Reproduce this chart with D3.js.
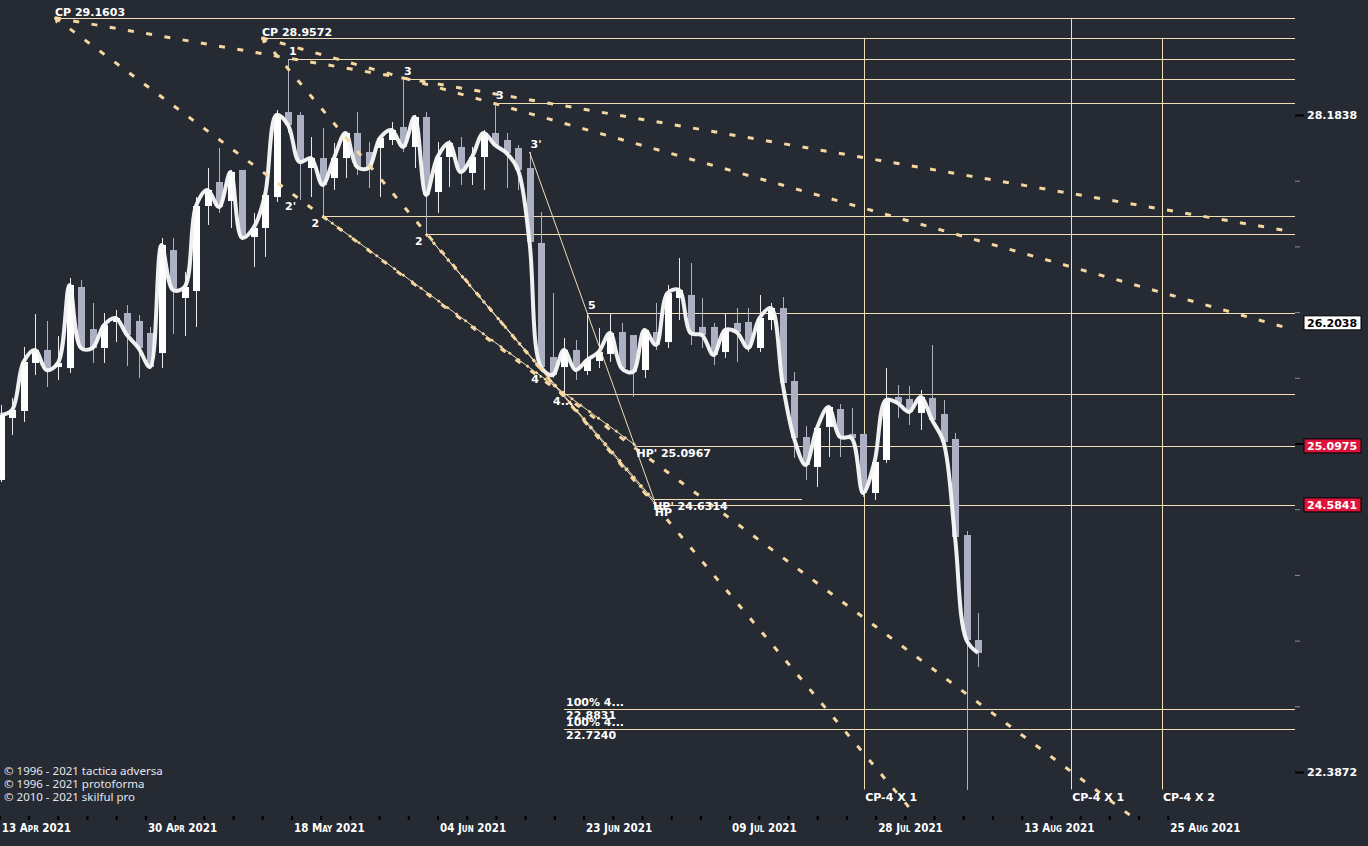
<!DOCTYPE html>
<html><head><meta charset="utf-8">
<script src="https://cdn.jsdelivr.net/npm/d3@7"></script>
<style>
html,body{margin:0;padding:0;background:#252a33;overflow:hidden}
svg{display:block}
</style></head><body>
<svg id="c" width="1368" height="846"></svg>
<script>
// ---------------- data ----------------
const opens  = [24.800,25.344,25.407,25.838,25.956,25.801,25.792,26.535,26.147,25.974,26.212,26.294,26.221,26.111,25.928,26.881,26.433,26.498,27.299,27.530,27.347,27.646,27.004,27.090,27.385,28.213,28.184,27.665,27.762,27.568,27.762,28.007,27.821,27.860,27.938,28.066,27.870,28.164,27.433,27.772,27.870,27.617,27.772,28.007,27.938,27.860,27.665,26.948,25.892,25.801,25.956,25.765,25.856,25.919,26.120,26.092,25.774,26.120,26.028,26.433,26.461,26.166,26.166,25.937,26.203,26.212,25.974,26.230,26.340,25.675,25.176,24.913,25.265,25.424,25.203,25.203,24.687,24.974,25.532,25.514,25.389,25.523,25.380,25.159,24.326,23.447];
const highs  = [25.460,25.522,25.983,26.285,26.221,26.083,26.619,26.600,26.387,26.294,26.322,26.368,26.276,26.166,26.995,26.995,26.675,27.385,27.665,27.860,27.646,27.646,27.232,27.424,28.233,28.742,28.213,27.967,28.056,27.909,28.007,28.213,27.918,27.967,28.115,28.542,28.184,28.213,27.918,27.938,27.967,27.870,28.036,28.303,28.007,27.889,27.821,27.242,26.479,26.065,26.047,26.294,26.157,26.294,26.203,26.092,26.138,26.387,26.554,26.806,26.759,26.433,26.203,26.294,26.340,26.340,26.461,26.387,26.442,25.756,25.273,25.300,25.460,25.469,25.433,25.203,24.974,25.792,25.639,25.630,25.594,26.001,25.505,25.212,24.360,23.670];
const lows   = [24.782,25.194,25.309,25.729,25.621,25.684,25.747,25.965,25.838,25.838,26.028,25.810,25.702,25.792,25.792,26.102,26.083,26.166,27.118,27.232,27.090,26.976,26.722,26.816,27.337,28.007,27.357,27.385,27.204,27.453,27.568,27.597,27.472,27.385,27.889,27.821,27.665,27.033,27.232,27.482,27.501,27.501,27.453,27.870,27.472,27.453,26.938,25.756,25.702,25.558,25.684,25.729,25.792,25.847,25.756,25.532,25.702,25.956,25.974,26.230,26.001,25.974,25.820,25.883,25.847,25.937,25.937,26.138,25.639,24.992,24.800,24.739,25.000,25.000,25.150,24.652,24.626,24.948,25.344,25.282,25.238,25.309,25.114,24.284,22.247,23.226];
const closes = [25.371,25.416,25.847,25.956,25.774,25.838,26.554,25.974,25.974,26.184,26.248,26.092,25.974,25.801,26.928,26.507,26.535,27.299,27.453,27.289,27.626,26.995,27.090,27.405,28.184,28.085,27.723,27.762,27.501,27.762,28.007,27.675,27.665,27.957,28.036,27.870,28.164,27.405,27.772,27.909,27.626,27.772,28.007,27.889,27.811,27.646,26.957,25.801,25.729,25.956,25.774,25.865,25.937,26.111,25.792,25.756,26.138,26.001,26.479,26.507,26.111,26.092,25.910,26.138,26.120,25.974,26.248,26.340,25.657,25.167,24.930,25.256,25.442,25.176,25.167,24.687,24.957,25.505,25.478,25.398,25.532,25.327,25.132,24.309,23.447,23.341];

const dateLabels = ["13 Apr 2021","30 Apr 2021","18 May 2021","04 Jun 2021","23 Jun 2021","09 Jul 2021","28 Jul 2021","13 Aug 2021","25 Aug 2021"];
const dateTickStep = 2.54;          // candles per minor date tick
const dateTickCount = 41;
const yMajorTicks = [28.1838, 25.1188, 22.3872];
const yMinorTicks = [22.9087, 23.4423, 23.9883, 24.5470, 25.1188, 25.7040, 26.3026, 26.9153, 27.5422];
const priceTags = [26.2038, 25.0975, 24.5841];

// horizontal levels: price, start index, end index (null = to the right edge)
const levelPrices = [29.1603, 28.9572, 28.742, 28.542, 28.303, 27.2037, 27.0326, 26.2944, 25.558, 25.0967, 24.6314, 24.5841, 22.8831, 22.7240];
const levelStarts = [4.74, 22.74, 25, 35, 43, 28, 37, 51, 49, 55.3, 56.75, 57, 49, 49];
const levelEnds   = [null, null, null, null, null, null, null, null, null, null, 69.7, null, null, null];

// projection verticals
const projIdx    = [75.1, 93.1, 101];
const projTop    = [28.9572, 29.1603, 28.9572];
const projLabels = ["CP-4 X 1", "CP-4 X 1", "CP-4 X 2"];
const projBottom = 22.25;

// thick dotted trend lines [[i,p],[i,p]]
const trendLines = [
  [[4.74, 29.1603], [112.5, 27.051]],
  [[4.74, 29.1603], [98.2, 22.052]],
  [[22.74, 28.9572], [112.5, 26.138]],
  [[22.74, 28.9572], [79.35, 22.075]]
];
// thin fan lines with dots
const fanLines = [
  [[28, 27.2037], [55.3, 25.0967]],
  [[37, 27.0326], [57, 24.5841]],
  [[37, 27.0326], [56.75, 24.6314]]
];
// thin plain line 3' -> HP
const plainLines = [
  [[46, 27.821], [57, 24.5841]]
];

// pivot / annotation labels: text, index, price
const cpLabels = [["CP 29.1603", 4.74, 29.1603], ["CP 28.9572", 22.74, 28.9572]];
const highLabels = [["1", 25, 28.742], ["3", 35, 28.542], ["3", 43, 28.303], ["3'", 46, 27.821], ["5", 51, 26.2944]];
const lowLabels  = [["2", 28, 27.2037], ["2", 37, 27.0326], ["4...", 49, 25.558], ["2'", 25.7, 27.37], ["4'", 47.1, 25.76]];
const hpLabels = [["HP' 25.0967", 55.3, 25.0967], ["HP' 24.6314", 56.75, 24.6314], ["HP", 56.9, 24.58]];
const targetLabels = [["100%  4...", "22.8831", 49, 22.8831], ["100%  4...", "22.7240", 49, 22.7240]];
const copyright = ["© 1996 - 2021 tactica adversa", "© 1996 - 2021 protoforma", "© 2010 - 2021 skilful pro"];

// ---------------- drawing ----------------
const W = 1368, H = 846, plotRight = 1295;
const svg = d3.select("#c");
const x = d3.scaleLinear().domain([0, 1]).range([0.5, 12]);
const y = d3.scaleLog().domain([22.3872, 28.1838]).range([772, 115]);

const LINE = "#f3ddb5", DOT = "#f6d7a0", GRAY = "#adb0c2", WHITE = "#ffffff";
const labelFont = "bold 11px 'DejaVu Sans'";

svg.append("rect").attr("width", W).attr("height", H).attr("fill", "#252a33");

svg.append("defs").append("clipPath").attr("id", "plot")
  .append("rect").attr("x", 0).attr("y", 0).attr("width", plotRight).attr("height", 816);

const g = svg.append("g").attr("clip-path", "url(#plot)");

// horizontal levels
g.selectAll("line.lvl").data(levelPrices).join("line")
  .attr("x1", (d, k) => x(levelStarts[k]))
  .attr("x2", (d, k) => levelEnds[k] == null ? plotRight : x(levelEnds[k]))
  .attr("y1", d => Math.round(y(d)) + 0.5).attr("y2", d => Math.round(y(d)) + 0.5)
  .attr("stroke", LINE).attr("stroke-width", 1);

// projection verticals
g.selectAll("line.proj").data(projIdx).join("line")
  .attr("x1", d => Math.round(x(d)) + 0.5).attr("x2", d => Math.round(x(d)) + 0.5)
  .attr("y1", (d, k) => y(projTop[k])).attr("y2", y(projBottom))
  .attr("stroke", LINE).attr("stroke-width", 1);

// candles
const idx = d3.range(closes.length);
const up = i => closes[i] >= opens[i];
g.selectAll("line.wick").data(idx).join("line")
  .attr("x1", i => Math.round(x(i)) + 0.5).attr("x2", i => Math.round(x(i)) + 0.5)
  .attr("y1", i => y(highs[i])).attr("y2", i => y(lows[i]))
  .attr("stroke", i => up(i) ? "#e8e8ee" : GRAY).attr("stroke-width", 1);
g.selectAll("rect.body").data(idx).join("rect")
  .attr("x", i => Math.round(x(i)) - 3)
  .attr("width", 7)
  .attr("y", i => y(Math.max(opens[i], closes[i])))
  .attr("height", i => Math.max(1.5, Math.abs(y(opens[i]) - y(closes[i]))))
  .attr("fill", i => up(i) ? WHITE : GRAY);

// smooth line through closes
g.append("path")
  .attr("d", d3.line().x((d, i) => x(i)).y(d => y(d)).curve(d3.curveCatmullRom.alpha(0.5))(closes))
  .attr("fill", "none").attr("stroke", "#f7f7f7").attr("stroke-width", 4)
  .attr("stroke-linejoin", "round").attr("stroke-opacity", 0.97);

// plain thin lines
g.selectAll("line.plain").data(plainLines).join("line")
  .attr("x1", d => x(d[0][0])).attr("y1", d => y(d[0][1]))
  .attr("x2", d => x(d[1][0])).attr("y2", d => y(d[1][1]))
  .attr("stroke", LINE).attr("stroke-width", 1);

// fan lines: thin line plus dots
g.selectAll("line.fan").data(fanLines).join("line")
  .attr("x1", d => x(d[0][0])).attr("y1", d => y(d[0][1]))
  .attr("x2", d => x(d[1][0])).attr("y2", d => y(d[1][1]))
  .attr("stroke", LINE).attr("stroke-width", 1);
g.selectAll("line.fandot").data(fanLines).join("line")
  .attr("x1", d => x(d[0][0])).attr("y1", d => y(d[0][1]))
  .attr("x2", d => x(d[1][0])).attr("y2", d => y(d[1][1]))
  .attr("stroke", DOT).attr("stroke-width", 2.6).attr("stroke-dasharray", "2.5,8.5");

// thick dotted trend lines
g.selectAll("line.trend").data(trendLines).join("line")
  .attr("x1", d => x(d[0][0])).attr("y1", d => y(d[0][1]))
  .attr("x2", d => x(d[1][0])).attr("y2", d => y(d[1][1]))
  .attr("stroke", DOT).attr("stroke-width", 3).attr("stroke-dasharray", "6,12.5");

// CP markers
svg.selectAll("path.cp").data(cpLabels).join("path")
  .attr("d", d => { const px = x(d[1]), py = y(d[2]); return `M${px-1},${py-1} L${px+6},${py+1} L${px+1},${py+6} Z`; })
  .attr("fill", DOT);

// labels
const txt = (sel) => sel.attr("fill", "#ffffff").style("font", labelFont);
svg.selectAll("text.cpl").data(cpLabels).join("text")
  .attr("x", d => x(d[1])).attr("y", d => y(d[2]) - 2).text(d => d[0]).call(txt);
svg.selectAll("text.hil").data(highLabels).join("text")
  .attr("x", d => x(d[1]) + 1).attr("y", d => y(d[2]) - 4).text(d => d[0]).call(txt);
svg.selectAll("text.lol").data(lowLabels).join("text")
  .attr("x", d => x(d[1]) - 11).attr("y", d => y(d[2]) + 11).text(d => d[0]).call(txt);
svg.selectAll("text.hpl").data(hpLabels).join("text")
  .attr("x", d => x(d[1])).attr("y", d => y(d[2]) + 11).text(d => d[0]).call(txt);
const tg = svg.selectAll("g.tgt").data(targetLabels).join("g");
tg.append("text").attr("x", d => x(d[2]) + 2).attr("y", d => y(d[3]) - 3).text(d => d[0]).call(txt);
tg.append("text").attr("x", d => x(d[2]) + 2).attr("y", d => y(d[3]) + 10).text(d => d[1]).call(txt);
svg.selectAll("text.proj").data(projLabels).join("text")
  .attr("x", (d, k) => x(projIdx[k]) + 1).attr("y", 801).text(d => d).call(txt);

svg.selectAll("text.copy").data(copyright).join("text")
  .attr("x", 4).attr("y", (d, k) => 775 + k * 13).text(d => d)
  .attr("fill", "#e6e6ee").style("font", "11.5px 'Noto Sans'");

// right axis
const yMinorAxis = d3.axisRight(y).tickValues(yMinorTicks).tickSize(5).tickFormat("");
const ra = svg.append("g").attr("transform", `translate(${plotRight},0)`).call(yMinorAxis);
ra.select(".domain").remove();
ra.selectAll("line").attr("stroke", "#8a8c96").attr("stroke-width", 1);

const yMajorAxis = d3.axisRight(y).tickValues(yMajorTicks).tickSize(9).tickPadding(3).tickFormat(d3.format(".4f"));
const rb = svg.append("g").attr("transform", `translate(${plotRight},0)`).call(yMajorAxis);
rb.select(".domain").remove();
rb.selectAll("line").attr("stroke", "#000").attr("stroke-width", 2);
rb.selectAll("text").attr("fill", "#fff").style("font", labelFont).attr("dy", "0.36em");

// price tags
const tags = svg.selectAll("g.tag").data(priceTags).join("g")
  .attr("transform", d => `translate(${plotRight + 9},${y(d)})`);
tags.append("rect").attr("x", 0).attr("y", -7).attr("width", 57).attr("height", 14)
  .attr("fill", (d, k) => k === 0 ? "#ffffff" : "#dc143c").attr("stroke", "#000").attr("stroke-width", 1);
tags.append("text").attr("x", 3).attr("y", 4.5).text(d => d3.format(".4f")(d))
  .attr("fill", (d, k) => k === 0 ? "#000" : "#fff").style("font", labelFont);

// bottom date axis
const xTicks = d3.range(dateTickCount).map(k => -0.1 + k * dateTickStep);
const xAxis = d3.axisBottom(x).tickValues(xTicks).tickSize(4).tickPadding(4)
  .tickFormat((d, k) => k % 5 === 0 ? (dateLabels[k / 5] || "") : "");
const ba = svg.append("g").attr("transform", "translate(0,816)").call(xAxis);
ba.select(".domain").remove();
ba.selectAll("line").attr("stroke", "#000").attr("stroke-width", 2);
ba.selectAll("text").attr("text-anchor", "start").attr("dx", 2).attr("y", 16).attr("dy", 0)
  .attr("fill", "#fff")
  .style("font", "bold 11.5px 'DejaVu Sans'").style("font-stretch", "condensed")
  .style("font-variant", "small-caps");
</script>
</body></html>
